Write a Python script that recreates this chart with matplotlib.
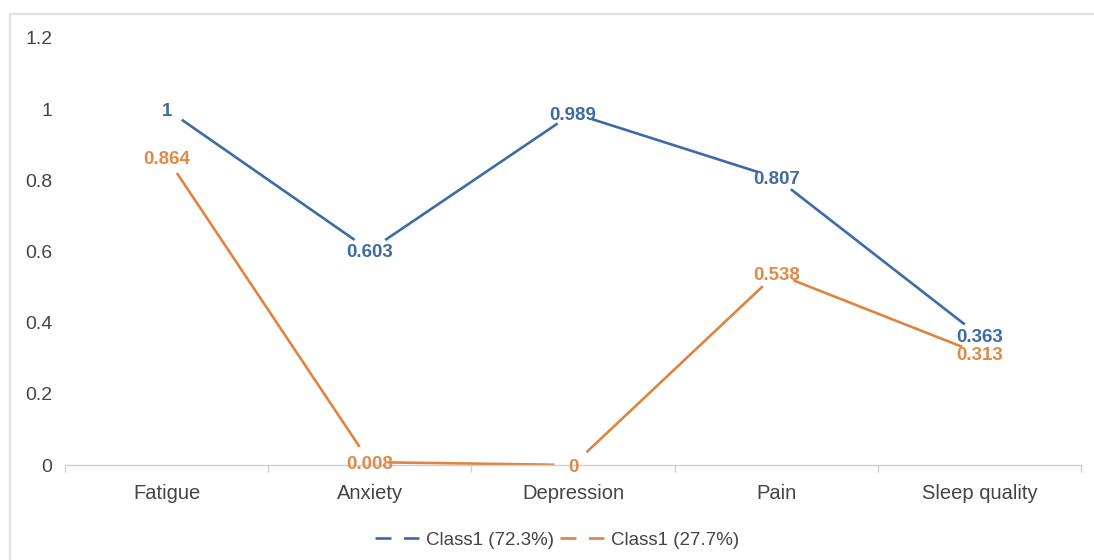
import numpy as np
import matplotlib
matplotlib.use("Agg")
import matplotlib.pyplot as plt
from matplotlib.lines import Line2D
from matplotlib.patches import Rectangle

plt.rcParams['font.family'] = ['Liberation Sans', 'DejaVu Sans']
plt.rcParams['lines.scale_dashes'] = False

categories = ["Fatigue", "Anxiety", "Depression", "Pain", "Sleep quality"]
class_major = [1.0, 0.603, 0.989, 0.807, 0.363]
class_minor = [0.864, 0.008, 0.0, 0.538, 0.313]
series_names = ["Class1 (72.3%)", "Class1 (27.7%)"]
y_ticks = [0, 0.2, 0.4, 0.6, 0.8, 1.0, 1.2]
y_tick_labels = ["0", "0.2", "0.4", "0.6", "0.8", "1", "1.2"]

BLUE = "#3e6ba8"
ORANGE = "#de8440"
BLUE_TXT = "#3f6aa6"
ORANGE_TXT = "#e08a47"

W, H, DPI = 1094, 560, 100
fig = plt.figure(figsize=(W / DPI, H / DPI), dpi=DPI)

# outer panel frame
fig.add_artist(Rectangle((10 / W, -0.05), 1.2, (H - 14) / H + 0.05,
                         transform=fig.transFigure, fill=False,
                         edgecolor="#e2e2e2", linewidth=1.6, zorder=0))

left, right = 65 / W, 1081 / W
bottom, top = (H - 465) / H, (H - 38) / H
ax = fig.add_axes([left, bottom, right - left, top - bottom])

n = len(categories)
x = np.arange(n)
ax.set_xlim(-0.5, n - 0.5)
ax.set_ylim(0, 1.2)

for s in ["top", "right", "left"]:
    ax.spines[s].set_visible(False)
ax.spines["bottom"].set_color("#cfcfcf")
ax.spines["bottom"].set_linewidth(1.0)

ax.set_yticks(y_ticks)
ax.set_yticklabels(y_tick_labels)
ax.tick_params(axis="y", length=0, pad=9, labelsize=14, labelcolor="#444444")

ax.set_xticks(x)
ax.set_xticklabels(categories)
ax.tick_params(axis="x", length=0, pad=14, labelsize=14.5, labelcolor="#444444")
# category boundary ticks
ax.set_xticks(np.arange(n + 1) - 0.5, minor=True)
ax.tick_params(axis="x", which="minor", length=5, width=1.0, color="#cfcfcf")


def draw_gapped(values, color, gap_px=18.5):
    """Draw the series as segments that stop short of each data point."""
    pts = ax.transData.transform(np.column_stack([x, values]))
    inv = ax.transData.inverted()
    for a, b in zip(pts[:-1], pts[1:]):
        d = b - a
        L = np.hypot(*d)
        u = d / L
        p0 = inv.transform(a + u * gap_px)
        p1 = inv.transform(b - u * gap_px)
        ax.plot([p0[0], p1[0]], [p0[1], p1[1]], color=color, linewidth=1.9,
                solid_capstyle="butt", zorder=2)


draw_gapped(class_major, BLUE)
draw_gapped(class_minor, ORANGE)


def fmt(v):
    s = f"{v:.3f}".rstrip("0").rstrip(".")
    return s


for xi, v in zip(x, class_major):
    ax.text(xi, v, fmt(v), ha="center", va="center_baseline", fontsize=13.5,
            fontweight="bold", color=BLUE_TXT, zorder=3)
for xi, v in zip(x, class_minor):
    ax.text(xi, v, fmt(v), ha="center", va="center_baseline", fontsize=13.5,
            fontweight="bold", color=ORANGE_TXT, zorder=3)

handles = [
    Line2D([], [], color=BLUE, linewidth=1.9, linestyle=(0, (11.5, 9.0))),
    Line2D([], [], color=ORANGE, linewidth=1.9, linestyle=(0, (11.5, 9.0))),
]
fig.legend(handles, series_names, loc="center", bbox_to_anchor=(557 / W, (H - 540) / H),
           ncol=2, frameon=False, fontsize=13.5, handlelength=2.35,
           handletextpad=0.35, columnspacing=0.35, labelcolor="#444444")

fig.savefig("out.png", dpi=DPI, facecolor="white")
